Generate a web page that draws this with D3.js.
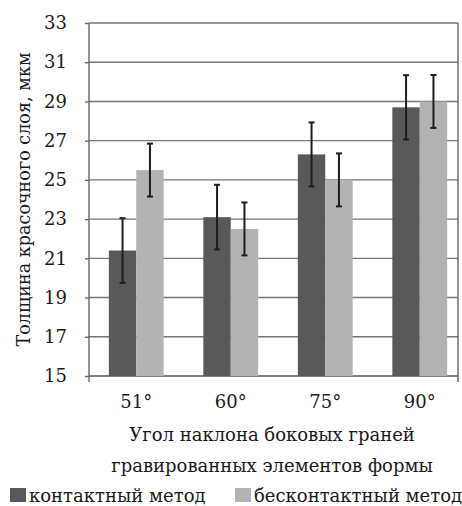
<!DOCTYPE html>
<html>
<head>
<meta charset="utf-8">
<script src="https://cdnjs.cloudflare.com/ajax/libs/d3/7.8.5/d3.min.js"></script>
<style>
    html, body { margin: 0; padding: 0; background: #fff; }
    svg { display: block; }
</style>
</head>
<body>
<svg id="chart" width="462" height="506"></svg>
<script>
// data
var categories = ['51°', '60°', '75°', '90°'];
var seriesNames = ['контактный метод', 'бесконтактный метод'];
var contactValues = [21.4, 23.1, 26.3, 28.7];
var contactErrors = [1.65, 1.65, 1.63, 1.64];
var noncontactValues = [25.5, 22.5, 25.0, 29.0];
var noncontactErrors = [1.35, 1.35, 1.35, 1.35];
var yTicks = [15, 17, 19, 21, 23, 25, 27, 29, 31, 33];
var yTitle = 'Толщина красочного слоя, мкм';
var xTitle = ['Угол наклона боковых граней', 'гравированных элементов формы'];
var colors = ['#595959', '#b3b3b3'];

var svg = d3.select('#chart');

var plotLeft = 89, plotRight = 458, plotTop = 23, plotBottom = 376;
var fontFamily = '"DejaVu Serif", serif';
var fontSize = '18px';

var styleText = function (sel, size) {
    sel.style('font-family', fontFamily)
        .style('font-size', size || fontSize)
        .style('fill', '#1a1a1a');
};

var y = d3.scaleLinear().domain([15, 33]).range([plotBottom, plotTop]);

// the groups sit a little wider than the frame in the original
var x0 = d3.scaleBand()
    .domain(categories)
    .range([plotLeft, 467])
    .paddingInner(0.42)
    .paddingOuter(0.21);
var x1 = d3.scaleBand()
    .domain(seriesNames)
    .range([0, x0.bandwidth()]);

var data = [];
categories.forEach(function (c, i) {
    data.push({cat: c, s: seriesNames[0], v: contactValues[i], e: contactErrors[i], color: colors[0]});
    data.push({cat: c, s: seriesNames[1], v: noncontactValues[i], e: noncontactErrors[i], color: colors[1]});
});

// grid lines
svg.append('g')
    .selectAll('line')
    .data(yTicks)
    .enter()
    .append('line')
    .attr('x1', plotLeft)
    .attr('x2', plotRight)
    .attr('y1', function (d) { return y(d); })
    .attr('y2', function (d) { return y(d); })
    .style('stroke', function (d) { return d === 15 ? '#555' : '#777'; })
    .style('stroke-width', 1.4);

// right border
svg.append('line')
    .attr('x1', plotRight).attr('x2', plotRight)
    .attr('y1', plotTop).attr('y2', plotBottom + 6)
    .style('stroke', '#666')
    .style('stroke-width', 1.4);

// bars
svg.append('g')
    .selectAll('rect')
    .data(data)
    .enter()
    .append('rect')
    .attr('x', function (d) { return x0(d.cat) + x1(d.s); })
    .attr('y', function (d) { return y(d.v); })
    .attr('width', x1.bandwidth())
    .attr('height', function (d) { return plotBottom - y(d.v); })
    .style('fill', function (d) { return d.color; });

// error bars
var err = svg.append('g')
    .selectAll('g')
    .data(data)
    .enter()
    .append('g')
    .attr('transform', function (d) {
        return 'translate(' + (x0(d.cat) + x1(d.s) + x1.bandwidth() / 2) + ',0)';
    });
err.append('line')
    .attr('x1', 0).attr('x2', 0)
    .attr('y1', function (d) { return y(d.v + d.e); })
    .attr('y2', function (d) { return y(d.v - d.e); })
    .style('stroke', '#1e1e1e')
    .style('stroke-width', 2);
err.selectAll('.cap')
    .data(function (d) { return [d.v + d.e, d.v - d.e]; })
    .enter()
    .append('line')
    .attr('class', 'cap')
    .attr('x1', -3).attr('x2', 3)
    .attr('y1', function (d) { return y(d); })
    .attr('y2', function (d) { return y(d); })
    .style('stroke', '#1e1e1e')
    .style('stroke-width', 2);

// y axis
var yAxis = svg.append('g')
    .attr('transform', 'translate(' + plotLeft + ',0)')
    .call(d3.axisLeft(y).tickValues(yTicks).tickSize(4).tickPadding(18).tickFormat(d3.format('d')));
yAxis.select('.domain').remove();
yAxis.selectAll('.tick line').style('stroke', '#666').style('stroke-width', 1.4);
yAxis.selectAll('.tick text').call(styleText);
svg.append('line')
    .attr('x1', plotLeft).attr('x2', plotLeft)
    .attr('y1', plotTop).attr('y2', plotBottom + 6)
    .style('stroke', '#666')
    .style('stroke-width', 1.4);

// x labels
svg.append('g')
    .selectAll('text')
    .data(categories)
    .enter()
    .append('text')
    .attr('x', function (d) { return x0(d) + x0.bandwidth() / 2; })
    .attr('y', 408)
    .attr('text-anchor', 'middle')
    .call(styleText)
    .text(function (d) { return d; });

// axis titles
svg.append('text')
    .attr('transform', 'translate(30,' + ((plotTop + plotBottom) / 2) + ') rotate(-90)')
    .attr('text-anchor', 'middle')
    .call(styleText, '17.6px')
    .text(yTitle);

svg.append('g')
    .selectAll('text')
    .data(xTitle)
    .enter()
    .append('text')
    .attr('x', 272)
    .attr('y', function (d, i) { return 441 + i * 31; })
    .attr('text-anchor', 'middle')
    .call(styleText)
    .text(function (d) { return d; });

// legend
var legendX = [10, 235];
var legend = svg.append('g')
    .selectAll('g')
    .data(seriesNames)
    .enter()
    .append('g')
    .attr('transform', function (d, i) { return 'translate(' + legendX[i] + ',488)'; });
legend.append('rect')
    .attr('width', 16)
    .attr('height', 14)
    .style('fill', function (d, i) { return colors[i]; });
legend.append('text')
    .attr('x', 19)
    .attr('y', 14)
    .call(styleText)
    .text(function (d) { return d; });
</script>
</body>
</html>
